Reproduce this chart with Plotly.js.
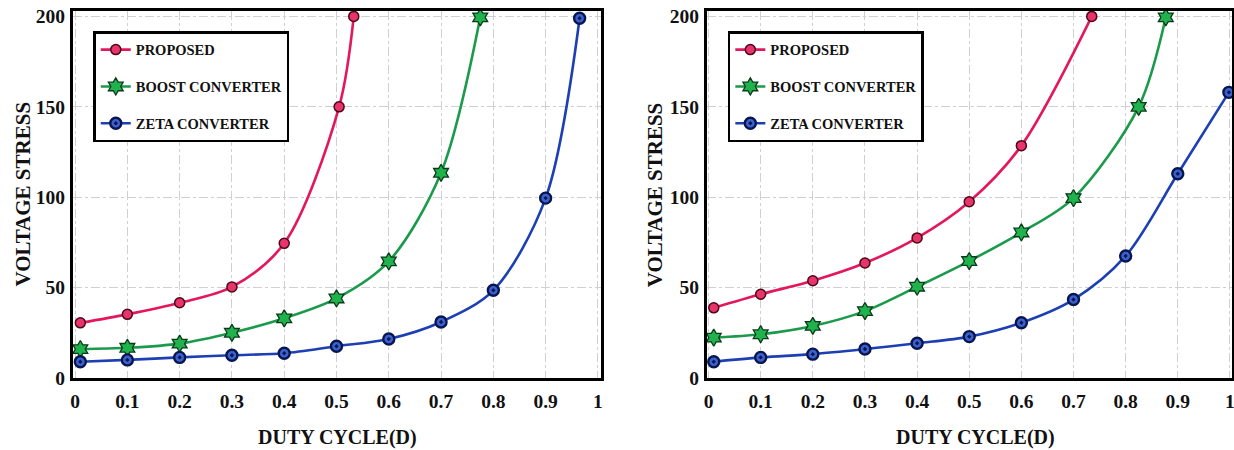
<!DOCTYPE html>
<html>
<head>
<meta charset="utf-8">
<script src="https://cdn.plot.ly/plotly-3.0.1.min.js"></script>
<style>html,body{margin:0;padding:0;background:#fff;}#chart{width:1234px;height:450px;}</style>
</head>
<body>
<div id="chart"></div>
<script>
// ---- Data ----
const seriesNames = ["PROPOSED", "BOOST CONVERTER", "ZETA CONVERTER"];

// Left chart
const leftProposedD = [0.01, 0.1, 0.2, 0.3, 0.4, 0.505, 0.533];
const leftProposedV = [30.5, 35.2, 41.6, 50.4, 74.5, 150, 200];
const leftBoostD = [0.01, 0.1, 0.2, 0.3, 0.4, 0.5, 0.6, 0.7, 0.775];
const leftBoostV = [16, 16.7, 19, 25, 33, 44, 64.5, 113.5, 199.5];
const leftZetaD = [0.01, 0.1, 0.2, 0.3, 0.4, 0.5, 0.6, 0.7, 0.8, 0.9, 0.965];
const leftZetaV = [9, 10, 11.4, 12.6, 13.7, 17.6, 21.6, 31, 48.5, 99.5, 199];

// Right chart
const rightProposedD = [0.01, 0.1, 0.2, 0.3, 0.4, 0.5, 0.6, 0.735];
const rightProposedV = [38.8, 46.3, 53.8, 63.6, 77.5, 97.5, 128.5, 200];
const rightBoostD = [0.01, 0.1, 0.2, 0.3, 0.4, 0.5, 0.6, 0.7, 0.825, 0.877];
const rightBoostV = [22.3, 24.2, 28.8, 37, 50.5, 64.7, 80.5, 99.5, 150, 199.5];
const rightZetaD = [0.01, 0.1, 0.2, 0.3, 0.4, 0.5, 0.6, 0.7, 0.8, 0.9, 0.998];
const rightZetaV = [9, 11.4, 13.2, 16, 19.2, 22.9, 30.6, 43.4, 67.5, 113, 158];

const xTickVals = [0, 0.1, 0.2, 0.3, 0.4, 0.5, 0.6, 0.7, 0.8, 0.9, 1];
const xTickText = ["0", "0.1", "0.2", "0.3", "0.4", "0.5", "0.6", "0.7", "0.8", "0.9", "1"];
const yTickVals = [0, 50, 100, 150, 200];
const yTickText = ["0", "50", "100", "150", "200"];

const xTitle = "DUTY CYCLE(D)";
const yTitle = "VOLTAGE STRESS";

// ---- Styles ----
const FONT = "Liberation Serif, Times New Roman, serif";
const styles = [
  {line: {color: "#e3175e", width: 2.6, shape: "spline", smoothing: 0.9},
   marker: {symbol: "circle", size: 10, color: "#e8336c", line: {color: "#4a0818", width: 1.5}}},
  {line: {color: "#1a9a4a", width: 2.6, shape: "spline", smoothing: 0.9},
   marker: {symbol: "hexagram", size: 13, color: "#1fb24d", line: {color: "#0b3a1a", width: 1.3}}},
  {line: {color: "#1c3fb4", width: 2.6, shape: "spline", smoothing: 0.9},
   marker: {symbol: "circle-dot", size: 11, color: "#3d62cf", line: {color: "#08164f", width: 2.4}}}
];

function mk(x, y, i, xa, ya, leg) {
  return Object.assign({
    type: "scatter", mode: "lines+markers", x: x, y: y,
    name: "<b>" + seriesNames[i] + "</b>", xaxis: xa, yaxis: ya, legend: leg,
    legendgroup: leg + "_" + i
  }, JSON.parse(JSON.stringify(styles[i])));
}

const data = [
  mk(leftProposedD, leftProposedV, 0, "x", "y", "legend"),
  mk(leftBoostD, leftBoostV, 1, "x", "y", "legend"),
  mk(leftZetaD, leftZetaV, 2, "x", "y", "legend"),
  mk(rightProposedD, rightProposedV, 0, "x2", "y2", "legend2"),
  mk(rightBoostD, rightBoostV, 1, "x2", "y2", "legend2"),
  mk(rightZetaD, rightZetaV, 2, "x2", "y2", "legend2")
];

const tickFont = {family: FONT, size: 19.5, color: "#111"};
function xaxis(domain, range, anchor) {
  return {
    domain: domain, range: range, anchor: anchor,
    tickmode: "array", tickvals: xTickVals, ticktext: xTickText.map(t => "<b>" + t + "</b>"),
    tickfont: tickFont, ticks: "", showline: true, mirror: true,
    linecolor: "#000", linewidth: 3, showgrid: true,
    gridcolor: "#d0d0d0", griddash: "dashdot", gridwidth: 1, zeroline: false,
    ticklabelstandoff: 4, ticklabeloverflow: "allow", automargin: false
  };
}
function yaxis(range, anchor) {
  return {
    range: range, anchor: anchor,
    tickmode: "array", tickvals: yTickVals, ticktext: yTickText.map(t => "<b>" + t + "</b>"),
    tickfont: tickFont, ticks: "", showline: true, mirror: true,
    linecolor: "#000", linewidth: 3, showgrid: true,
    gridcolor: "#d0d0d0", griddash: "dashdot", gridwidth: 1, zeroline: false,
    ticklabelstandoff: 1, automargin: false
  };
}

const legendCommon = {
  font: {family: FONT, size: 14.5, color: "#111"},
  bgcolor: "#fff", bordercolor: "#000", borderwidth: 2.5,
  xanchor: "left", yanchor: "top", traceorder: "grouped",
  tracegroupgap: 15, itemwidth: 30
};

const titleFont = {family: FONT, size: 21, color: "#111"};
const layout = {
  width: 1234, height: 450,
  margin: {l: 73, r: 2, t: 11, b: 72},
  paper_bgcolor: "#fff", plot_bgcolor: "#fff",
  showlegend: true,
  xaxis: xaxis([0, 0.4556], [-0.004, 1.006], "y"),
  yaxis: yaxis([0, 203], "x"),
  xaxis2: xaxis([0.547, 1], [-0.003, 1.004], "y2"),
  yaxis2: yaxis([0, 203], "x2"),
  legend: Object.assign({x: 0.0175, y: 0.945}, legendCommon),
  legend2: Object.assign({x: 0.565, y: 0.945}, legendCommon),
  annotations: [
    {text: "<b>" + yTitle + "</b>", xref: "paper", yref: "paper", x: -0.044, y: 0.5,
     xanchor: "center", yanchor: "middle", textangle: -90, showarrow: false, font: titleFont},
    {text: "<b>" + yTitle + "</b>", xref: "paper", yref: "paper", x: 0.502, y: 0.5,
     xanchor: "center", yanchor: "middle", textangle: -90, showarrow: false, font: titleFont},
    {text: "<b>" + xTitle + "</b>", xref: "paper", yref: "paper", x: 0.2278, y: -0.163,
     xanchor: "center", yanchor: "middle", showarrow: false, font: {family: FONT, size: 20, color: "#111"}},
    {text: "<b>" + xTitle + "</b>", xref: "paper", yref: "paper", x: 0.7783, y: -0.163,
     xanchor: "center", yanchor: "middle", showarrow: false, font: {family: FONT, size: 20, color: "#111"}}
  ]
};

Plotly.newPlot("chart", data, layout, {displayModeBar: false, staticPlot: true});
</script>
</body>
</html>
